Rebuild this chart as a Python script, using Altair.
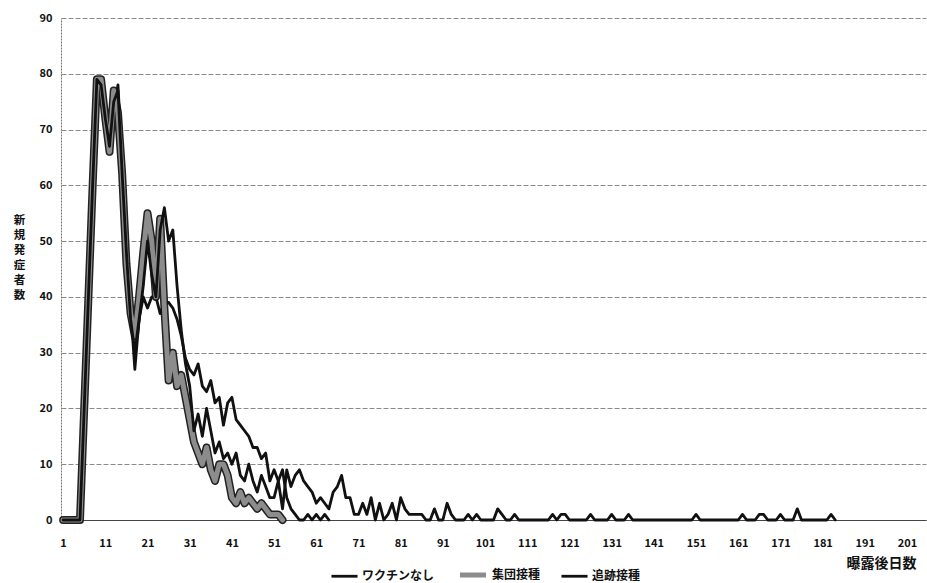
import altair as alt
import pandas as pd

series_names = ["ワクチンなし", "集団接種", "追跡接種"]

# 新規発症者数 per day (day 1 ..)
no_vaccine = [0, 0, 0, 0, 0, 20, 40, 60, 78, 79, 73, 68, 74, 78, 64, 50, 38, 27, 36, 40,
              38, 40, 40, 37, 39, 39, 38, 36, 33, 29, 27, 26, 28, 24, 23, 25, 21, 22, 17, 21,
              22, 18, 17, 16, 15, 13, 13, 11, 12, 7, 9, 7, 2, 9, 6, 8, 9, 7, 6, 5,
              3, 4, 3, 2, 5, 6, 8, 4, 4, 1, 1, 3, 1, 4, 0, 3, 0, 1, 3, 0,
              4, 2, 1, 1, 1, 1, 0, 0, 2, 0, 0, 3, 1, 0, 0, 0, 1, 0, 1, 0,
              0, 0, 0, 2, 1, 0, 0, 1, 0, 0, 0, 0, 0, 0, 0, 0, 1, 0, 1, 1,
              0, 0, 0, 0, 0, 1, 0, 0, 0, 0, 1, 0, 0, 0, 1, 0, 0, 0, 0, 0,
              0, 0, 0, 0, 0, 0, 0, 0, 0, 0, 1, 0, 0, 0, 0, 0, 0, 0, 0, 0,
              0, 1, 0, 0, 0, 1, 1, 0, 0, 0, 1, 0, 0, 0, 2, 0, 0, 0, 0, 0,
              0, 0, 1, 0]
mass_vaccination = [0, 0, 0, 0, 0, 20, 40, 60, 79, 79, 72, 66, 77, 73, 62, 46, 37, 33, 40, 48,
                    55, 50, 40, 54, 38, 25, 30, 24, 26, 22, 18, 14, 12, 10, 13, 9, 7, 10, 10, 8,
                    4, 3, 5, 3, 4, 3, 2, 3, 2, 1, 1, 1, 0]
tracing_vaccination = [0, 0, 0, 0, 0, 20, 40, 60, 79, 78, 72, 67, 75, 77, 62, 48, 36, 30, 36, 42,
                       50, 44, 40, 52, 56, 50, 52, 42, 34, 28, 24, 16, 19, 15, 20, 16, 12, 14, 11, 12,
                       10, 12, 8, 7, 10, 7, 5, 8, 6, 4, 4, 7, 9, 4, 2, 1, 0, 0, 1, 0,
                       1, 0, 1, 0]

x_ticks = list(range(1, 202, 10))
y_ticks = list(range(0, 91, 10))

rows = []
for name, vals in zip(series_names, [no_vaccine, mass_vaccination, tracing_vaccination]):
    for i, v in enumerate(vals):
        rows.append({"day": i + 1, "cases": v, "series": name})
df = pd.DataFrame(rows)

FONT = "Noto Sans CJK JP"

x_enc = alt.X(
    "day:Q",
    scale=alt.Scale(domain=[0.5, 205.5], nice=False, zero=False),
    axis=alt.Axis(
        values=x_ticks, grid=False, ticks=False, labelPadding=17,
        labelFont=FONT, labelFontSize=11, labelFontWeight="bold", labelColor="#111",
        domainColor="#444", domainWidth=1,
        title="曝露後日数", titleX=855, titleY=43, titleAlign="right",
        titleBaseline="middle", titleFont=FONT, titleFontSize=14,
        titleFontWeight="bold", titleColor="#111", labelFlush=False,
    ),
)
y_enc = alt.Y(
    "cases:Q",
    scale=alt.Scale(domain=[0, 90], nice=False),
    axis=alt.Axis(
        values=y_ticks, grid=True, gridColor="#8a8a8a", gridDash=[5, 2], gridWidth=1,
        ticks=False, labelPadding=9, labelFont=FONT, labelFontSize=11,
        labelFontWeight="bold", labelColor="#111",
        domainColor="#777", domainDash=[2, 1],
        title=["新", "規", "発", "症", "者", "数"], titleAngle=0, titleX=-42, titleY=202,
        titleAlign="center", titleBaseline="middle", titleLineHeight=15,
        titleFont=FONT, titleFontSize=11.5, titleFontWeight="bold", titleColor="#111",
    ),
)

legend = alt.Legend(
    orient="none", legendX=269, legendY=541, direction="horizontal", title=None,
    symbolType="stroke", symbolSize=680, labelFont=FONT, labelFontSize=12,
    labelFontWeight="bold", labelColor="#111", columnPadding=14, labelOffset=3,
)

outline = alt.Chart(df).transform_filter(
    alt.datum.series == "集団接種"
).mark_line(color="#222", strokeWidth=8, strokeJoin="round", strokeCap="round").encode(
    x=x_enc, y=y_enc, detail="series:N"
)

lines = alt.Chart(df).mark_line(strokeJoin="round", strokeCap="round").encode(
    x=x_enc,
    y=y_enc,
    color=alt.Color("series:N", scale=alt.Scale(domain=series_names, range=["#111111", "#8c8c8c", "#111111"]), legend=legend),
    strokeWidth=alt.StrokeWidth("series:N", scale=alt.Scale(type="ordinal", domain=series_names, range=[2.8, 5, 2.8]), legend=legend),
)

chart = alt.layer(outline, lines).properties(
    width=865, height=502,
    autosize=alt.AutoSizeParams(type="none"),
    padding={"left": 61, "top": 18, "right": 1, "bottom": 63},
    background="white",
).configure_view(stroke=None)

chart.save("out.html", embed_options={"renderer": "svg", "actions": False})
